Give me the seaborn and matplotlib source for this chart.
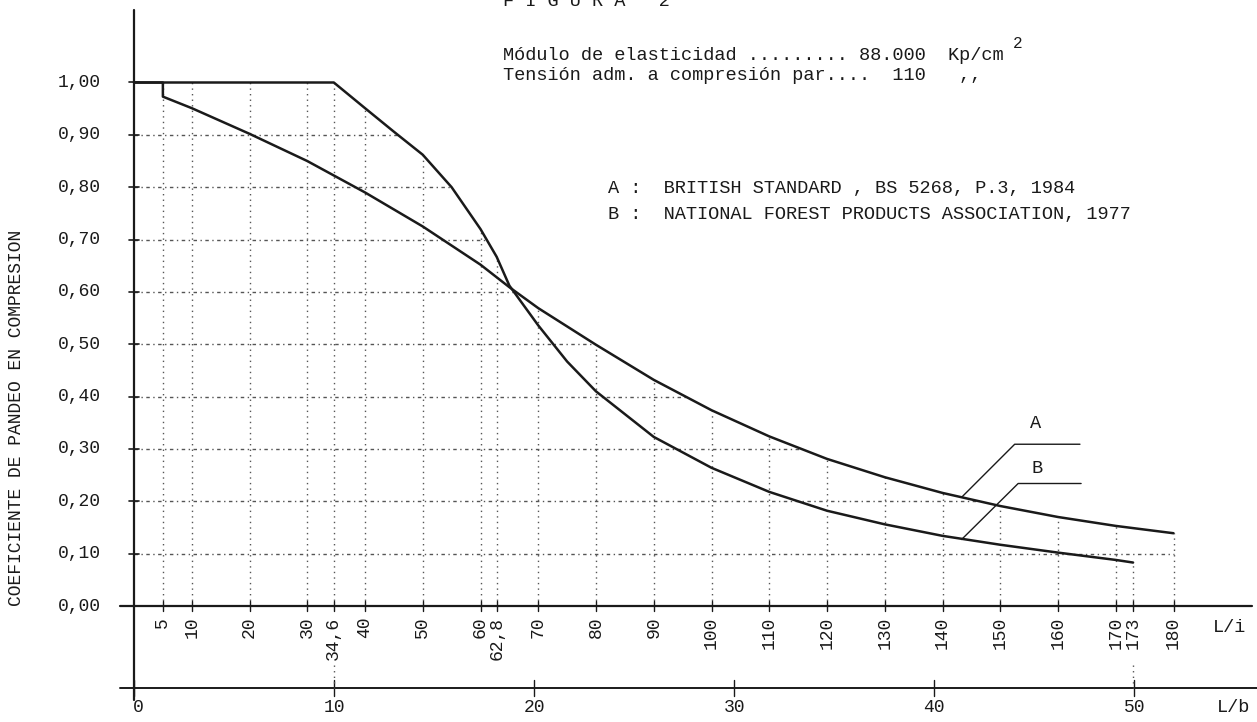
import numpy as np
import matplotlib
matplotlib.use("Agg")
import matplotlib.pyplot as plt
import seaborn as sns
import pandas as pd

# ---------------- data ----------------
li_ticks = [5, 10, 20, 30, 34.6, 40, 50, 60, 62.8, 70, 80, 90, 100, 110,
            120, 130, 140, 150, 160, 170, 173, 180]
li_labels = ["5", "10", "20", "30", "34,6", "40", "50", "60", "62,8", "70",
             "80", "90", "100", "110", "120", "130", "140", "150", "160",
             "170", "173", "180"]
lb_ticks = [0, 10, 20, 30, 40, 50]
lb_labels = ["0", "10", "20", "30", "40", "50"]
y_ticks = [0.0, 0.1, 0.2, 0.3, 0.4, 0.5, 0.6, 0.7, 0.8, 0.9, 1.0]
y_labels = ["0,00", "0,10", "0,20", "0,30", "0,40", "0,50", "0,60",
            "0,70", "0,80", "0,90", "1,00"]

# Curve A : British Standard BS 5268
curve_a_li = [0, 5, 5, 10, 20, 30, 40, 50, 60, 65, 70, 80, 90, 100, 110,
              120, 130, 140, 150, 160, 170, 180]
curve_a_val = [1.0, 1.0, 0.973, 0.951, 0.902, 0.850, 0.790, 0.725, 0.652,
               0.609, 0.569, 0.499, 0.432, 0.374, 0.324, 0.281, 0.246,
               0.216, 0.191, 0.170, 0.153, 0.139]

# Curve B : National Forest Products Association 1977
curve_b_li = [0, 34.6, 40, 45, 50, 55, 60, 62.8, 65, 70, 75, 80, 90, 100,
              110, 120, 130, 140, 150, 160, 170, 173]
curve_b_val = [1.0, 1.0, 0.951, 0.906, 0.862, 0.800, 0.720, 0.667, 0.612,
               0.536, 0.467, 0.410, 0.323, 0.264, 0.218, 0.182, 0.156,
               0.134, 0.117, 0.102, 0.088, 0.083]

# leader lines of the curve labels
leader_a_li = [143.3, 152.5, 163.8]
leader_a_val = [0.2076, 0.309, 0.309]
leader_b_li = [143.3, 153.1, 164.0]
leader_b_val = [0.127, 0.234, 0.234]
label_a_pos = (156.2, 0.349)
label_b_pos = (156.3, 0.263)

LB_TO_LI = 3.464   # L/b 10 <-> L/i 34,6 ; L/b 50 <-> L/i 173
connector_ticks = [34.6, 173]

# ---------------- figure ----------------
W, H = 1257, 722
sns.set_style("white")
plt.rcParams['font.family'] = ['Liberation Mono', 'DejaVu Sans Mono', 'DejaVu Sans']

fig = plt.figure(figsize=(W / 100, H / 100), dpi=100)
ax = fig.add_axes([0, 0, 1, 1])

X0, SX = 134.0, 5.775    # pixel of L/i = 0, pixels per unit
Y0, SY = 606.0, 523.5    # pixel of 0,00, pixels per 1.0
ax.set_xlim(-X0 / SX, (W - X0) / SX)
ax.set_ylim((Y0 - H) / SY, Y0 / SY)


def px2x(px):
    return (px - X0) / SX


def px2y(py):
    return (Y0 - py) / SY


INK = "#1a1a1a"
GRID = "#555555"
FS_TXT = 13.4
FS_TICK = 13

# ---------------- grid (bounded by the curves) ----------------
xs = np.linspace(0, 180, 3601)
env = np.maximum(np.interp(xs, curve_a_li[2:], curve_a_val[2:]),
                 np.interp(xs, curve_b_li, curve_b_val, right=0))
for t in li_ticks:
    if t == 173:
        top = curve_b_val[-1]
    else:
        top = env[np.argmin(np.abs(xs - t))]
    ax.plot([t, t], [0, top], color=GRID, lw=1.0, ls=(0, (1, 3)), zorder=1)
for v in y_ticks[1:-1]:
    xend = xs[env >= v].max()
    ax.plot([0, xend], [v, v], color=GRID, lw=1.0, ls=(0, (2.5, 2.5, 1, 2.5)),
            zorder=1)

# ---------------- curves ----------------
df_a = pd.DataFrame({"L/i": curve_a_li, "coef": curve_a_val})
df_b = pd.DataFrame({"L/i": curve_b_li, "coef": curve_b_val})
sns.lineplot(data=df_a, x="L/i", y="coef", ax=ax, color=INK, lw=1.8,
             estimator=None, sort=False, zorder=3)
sns.lineplot(data=df_b, x="L/i", y="coef", ax=ax, color=INK, lw=1.8,
             estimator=None, sort=False, zorder=3)

# leader lines
ax.plot(leader_a_li, leader_a_val, color=INK, lw=1.0)
ax.plot(leader_b_li, leader_b_val, color=INK, lw=1.0)
ax.text(*label_a_pos, "A", ha="center", va="center", fontsize=FS_TXT, color=INK)
ax.text(*label_b_pos, "B", ha="center", va="center", fontsize=FS_TXT, color=INK)

# ---------------- axes ----------------
y_lb = px2y(688)
ax.plot([0, 0], [px2y(700), px2y(10)], color=INK, lw=1.6)
ax.plot([px2x(120), px2x(1252)], [0, 0], color=INK, lw=1.6)
ax.plot([px2x(120), px2x(1257)], [y_lb, y_lb], color=INK, lw=1.4)

for v, lab in zip(y_ticks, y_labels):
    ax.plot([px2x(129), px2x(139)], [v, v], color=INK, lw=1.2)
    ax.text(px2x(101), v, lab, ha="right", va="center", fontsize=FS_TICK,
            color=INK)

for t, lab in zip(li_ticks, li_labels):
    ax.plot([t, t], [px2y(601), px2y(611)], color=INK, lw=1.0)
    ax.text(t, px2y(617), lab, rotation=90, ha="center", va="top",
            fontsize=FS_TICK, color=INK)

for t, lab in zip(lb_ticks, lb_labels):
    ax.plot([t * LB_TO_LI] * 2, [y_lb - 8 / SY, y_lb + 8 / SY], color=INK,
            lw=1.0)
    ax.text(t * LB_TO_LI + (4 / SX if t == 0 else 0), px2y(708), lab,
            ha="center", va="center", fontsize=FS_TICK, color=INK)

for t in connector_ticks:
    ax.plot([t, t], [px2y(665), y_lb], color=GRID, lw=1.0, ls=(0, (1, 3)))

ax.text(px2x(1230), px2y(628), "L/i", ha="center", va="center",
        fontsize=FS_TXT, color=INK)
ax.text(px2x(1234), px2y(708), "L/b", ha="center", va="center",
        fontsize=FS_TXT, color=INK)

ax.set_axis_off()

# ---------------- texts ----------------
fig.text(17 / W, 1 - 418 / H, "COEFICIENTE DE PANDEO EN COMPRESION",
         rotation=90, ha="center", va="center", fontsize=FS_TICK, color=INK)
fig.text(503 / W, 1 - 6 / H, "F I G U R A   2", ha="left", va="baseline",
         fontsize=FS_TXT, color=INK)
fig.text(503 / W, 1 - 55 / H, "Módulo de elasticidad ......... 88.000  Kp/cm",
         ha="left", va="center", fontsize=FS_TXT, color=INK)
fig.text(1013 / W, 1 - 44 / H, "2", ha="left", va="center", fontsize=11.5,
         color=INK)
fig.text(503 / W, 1 - 75 / H, "Tensión adm. a compresión par....  110   ,,",
         ha="left", va="center", fontsize=FS_TXT, color=INK)
fig.text(608 / W, 1 - 188 / H, "A :  BRITISH STANDARD , BS 5268, P.3, 1984",
         ha="left", va="center", fontsize=FS_TXT, color=INK)
fig.text(608 / W, 1 - 214 / H, "B :  NATIONAL FOREST PRODUCTS ASSOCIATION, 1977",
         ha="left", va="center", fontsize=FS_TXT, color=INK)

fig.savefig("out.png", dpi=100)
